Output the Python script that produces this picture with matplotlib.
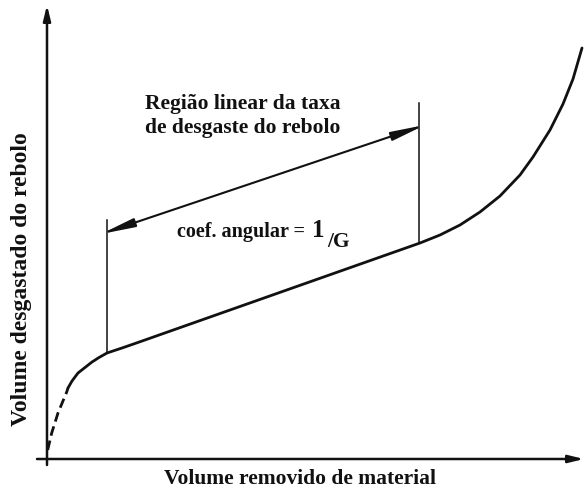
import matplotlib
matplotlib.use("Agg")
import matplotlib.pyplot as plt

# ---------------------------------------------------------------------------
# Data (schematic wheel-wear curve, arbitrary units)
# ---------------------------------------------------------------------------

# run-in region (dashed)
RUNIN_X = [0.7, 4.7, 11, 19.7, 21]
RUNIN_Y = [9, 26, 46, 67, 71]

# knee + linear + accelerated wear (solid)
WEAR_X = [21, 25, 31, 38, 45, 52, 60, 75, 88, 373, 393, 413, 433, 453,
          473, 486, 503, 516, 526, 535]
WEAR_Y = [71, 78, 86, 91.5, 97, 101.5, 106, 111, 115.5, 216, 224, 234, 247,
          263, 284, 302, 329, 355, 380, 411]

# limits of the linear region
LIN_X = [60, 372]
LIN_TOP = [239, 356]
LIN_BOTTOM = [106, 216]
ARROW_Y = [227, 332]

X_LABEL = "Volume removido de material"
Y_LABEL = "Volume desgastado do rebolo"
REGION_LABEL = "Região linear da taxa\nde desgaste do rebolo"
SLOPE_LABEL = "coef. angular ="

plt.rcParams["font.family"] = ["Liberation Serif", "DejaVu Serif"]

fig = plt.figure(figsize=(5.84, 4.93), dpi=100)
ax = fig.add_axes([0, 0, 1, 1])
ax.set_xlim(-47, 537)
ax.set_ylim(-34, 459)
ax.axis("off")

ink = "#111111"

# axes with arrows
axis_arrow = dict(arrowstyle="-|>,head_length=0.9,head_width=0.22",
                  color=ink, lw=1.8, shrinkA=0, shrinkB=0)
ax.annotate("", xy=(0, 454), xytext=(0, -6), arrowprops=axis_arrow,
            annotation_clip=False)
ax.annotate("", xy=(537, 0), xytext=(-10, 0), arrowprops=axis_arrow,
            annotation_clip=False)

# curve
ax.plot(RUNIN_X, RUNIN_Y, color=ink, lw=2.0, linestyle=(0, (3.5, 1.8)))
ax.plot(WEAR_X, WEAR_Y, color=ink, lw=2.0, solid_capstyle="round",
        solid_joinstyle="round")

# vertical limit lines
for x, y0, y1 in zip(LIN_X, LIN_BOTTOM, LIN_TOP):
    ax.plot([x, x], [y0, y1], color=ink, lw=1.1)

# double arrow (tips pushed out a little so the heads touch the lines)
slope = (ARROW_Y[1] - ARROW_Y[0]) / (LIN_X[1] - LIN_X[0])
pad = 6
ax.annotate("", xy=(LIN_X[1] + pad, ARROW_Y[1] + pad * slope),
            xytext=(LIN_X[0] - pad, ARROW_Y[0] - pad * slope),
            arrowprops=dict(arrowstyle="<|-|>,head_length=2.0,head_width=0.26",
                            color=ink, lw=1.5, shrinkA=0, shrinkB=0),
            annotation_clip=False)

# text
ax.text(98, 343, REGION_LABEL, ha="left", va="center", fontsize=15.5,
        fontweight="bold", color=ink, linespacing=1.2)
ax.text(130, 222, SLOPE_LABEL, ha="left", va="baseline", fontsize=14.5,
        fontweight="bold", color=ink)
ax.text(265, 222, "1", ha="left", va="baseline", fontsize=18,
        fontweight="bold", color=ink)
ax.text(280, 212, "/G", ha="left", va="baseline", fontsize=15.5,
        fontweight="bold", color=ink)

ax.text(253, -20, X_LABEL, ha="center", va="center", fontsize=15.5,
        fontweight="bold", color=ink)
ax.text(-25, 180, Y_LABEL, ha="center", va="center", fontsize=17,
        fontweight="bold", color=ink, rotation=90)

fig.savefig("out.png", dpi=100)
